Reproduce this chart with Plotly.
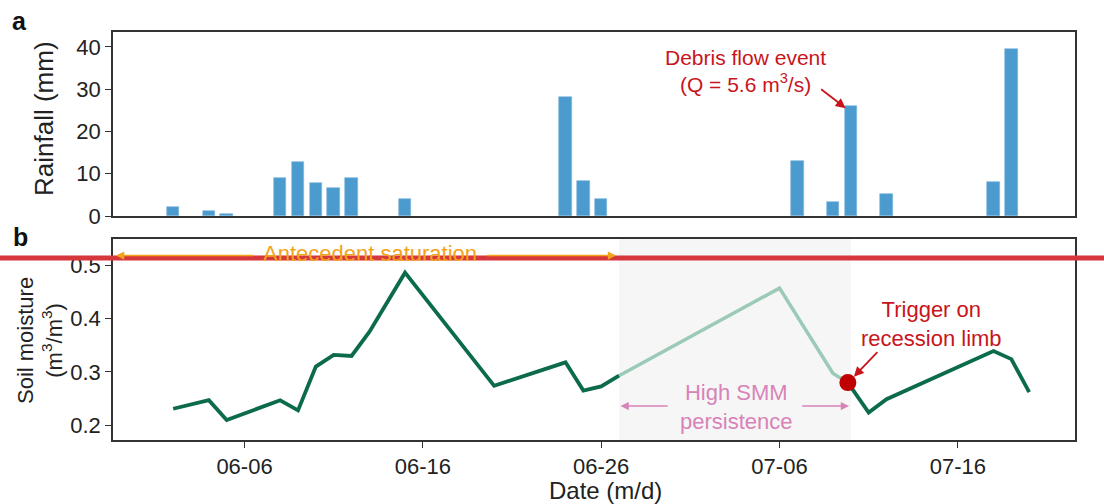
import plotly.graph_objects as go

# ---------------- data ----------------
YEAR = "2024-"
rain_dates = ["06-02", "06-04", "06-05", "06-08", "06-09", "06-10", "06-11", "06-12",
              "06-15", "06-24", "06-25", "06-26", "07-07", "07-09", "07-10", "07-12",
              "07-18", "07-19"]
rain_mm = [2.1, 1.2, 0.4, 8.9, 12.8, 7.9, 6.7, 8.9, 4.0, 28.2, 8.2, 4.1, 13.1, 3.2,
           26.0, 5.3, 8.1, 39.5]

sm_dates_pre = ["06-02", "06-04", "06-05", "06-08", "06-09", "06-10", "06-11", "06-12",
                "06-13", "06-15", "06-20", "06-24", "06-25", "06-26", "06-27"]
sm_pre = [0.231, 0.247, 0.210, 0.247, 0.228, 0.310, 0.332, 0.330, 0.375, 0.486, 0.274,
          0.318, 0.265, 0.273, 0.293]

sm_dates_high = ["06-27", "07-06", "07-09", "07-09 20:00"]
sm_high = [0.293, 0.457, 0.297, 0.280]

sm_dates_post = ["07-09 20:00", "07-11", "07-12", "07-18", "07-19", "07-20"]
sm_post = [0.280, 0.224, 0.249, 0.339, 0.324, 0.262]

trigger_date = "07-09 20:00"
trigger_sm = 0.280

tick_dates = ["06-06", "06-16", "06-26", "07-06", "07-16"]
tick_labels = ["06-06", "06-16", "06-26", "07-06", "07-16"]


def d(s):
    return YEAR + s


FONT = "Liberation Sans, Arial, sans-serif"
DARK = "#0c6b4b"
LIGHT = "#9bcab6"
RED = "#c8141c"
PINK = "#d883b8"
ORANGE = "#f2a31b"
BAR = "#4b9bcf"
AX = "#333333"

fig = go.Figure()

fig.add_trace(go.Bar(
    x=[d(s) for s in rain_dates], y=rain_mm, width=0.7 * 86400000,
    marker=dict(color=BAR, line=dict(color="#7db7df", width=0.6)),
    xaxis="x", yaxis="y", showlegend=False))

fig.add_trace(go.Scatter(
    x=[d(s) for s in sm_dates_high], y=sm_high, mode="lines",
    line=dict(color=LIGHT, width=3.5), xaxis="x2", yaxis="y2", showlegend=False))
fig.add_trace(go.Scatter(
    x=[d(s) for s in sm_dates_pre], y=sm_pre, mode="lines",
    line=dict(color=DARK, width=3.8), xaxis="x2", yaxis="y2", showlegend=False))
fig.add_trace(go.Scatter(
    x=[d(s) for s in sm_dates_post], y=sm_post, mode="lines",
    line=dict(color=DARK, width=3.8), xaxis="x2", yaxis="y2", showlegend=False))
fig.add_trace(go.Scatter(
    x=[d(trigger_date)], y=[trigger_sm], mode="markers",
    marker=dict(color="#c00000", size=17), xaxis="x2", yaxis="y2", showlegend=False))

xrange = [d("05-29 15:00"), d("07-22 13:40")]
axcommon = dict(showline=True, linecolor=AX, linewidth=1.5, mirror=True,
                showgrid=False, zeroline=False)

fig.update_layout(
    width=1104, height=504,
    margin=dict(l=113, r=29, t=32, b=64),
    plot_bgcolor="white", paper_bgcolor="white",
    font=dict(family=FONT, color="#222222", size=22),
    bargap=0,
    xaxis=dict(domain=[0, 1], anchor="y", range=xrange, type="date",
               showticklabels=False, ticks="", **axcommon),
    yaxis=dict(domain=[0.549, 1], anchor="x", range=[0, 43.5],
               tickvals=[0, 10, 20, 30, 40], ticks="outside", ticklen=6,
               tickcolor=AX, tickfont=dict(size=22), **axcommon),
    xaxis2=dict(domain=[0, 1], anchor="y2", range=xrange, type="date",
                tickvals=[d(s) for s in tick_dates], ticktext=tick_labels,
                ticks="outside", ticklen=6, tickcolor=AX,
                tickfont=dict(size=22), **axcommon),
    yaxis2=dict(domain=[0, 0.4926], anchor="x2", range=[0.1725, 0.549],
                tickvals=[0.2, 0.3, 0.4, 0.5], ticktext=["0.2", "0.3", "0.4", "0.5"],
                ticks="outside", ticklen=6, tickcolor=AX,
                tickfont=dict(size=22), **axcommon),
)

# shaded high-SMM window
fig.add_shape(type="rect", xref="x2", yref="y2 domain",
              x0=d("06-27"), x1=d("07-10"), y0=0, y1=1,
              fillcolor="#f6f6f6", line=dict(width=0), layer="below")

ann = []
# titles and panel labels
ann.append(dict(text="Rainfall (mm)", xref="paper", yref="paper",
                x=-69 / 962, y=(440 - 119) / 408, textangle=-90, showarrow=False,
                font=dict(size=26, color="#222222"), xanchor="center", yanchor="middle"))
ann.append(dict(text="Soil moisture<br>(m<sup>3</sup>/m<sup>3</sup>)", xref="paper", yref="paper",
                x=-73 / 962, y=(440 - 341) / 408, textangle=-90, showarrow=False,
                font=dict(size=22, color="#222222"), xanchor="center", yanchor="middle"))
ann.append(dict(text="Date (m/d)", xref="paper", yref="paper",
                x=(605 - 113) / 962, y=(440 - 490) / 408, showarrow=False,
                font=dict(size=24, color="#222222"), xanchor="center", yanchor="middle"))
ann.append(dict(text="<b>a</b>", xref="paper", yref="paper",
                x=(19 - 113) / 962, y=(440 - 21) / 408, showarrow=False,
                font=dict(size=25, color="#111111"), xanchor="center", yanchor="middle"))
ann.append(dict(text="<b>b</b>", xref="paper", yref="paper",
                x=(20 - 113) / 962, y=(440 - 237) / 408, showarrow=False,
                font=dict(size=25, color="#111111"), xanchor="center", yanchor="middle"))

# debris flow annotation
ann.append(dict(text="Debris flow event<br>(Q = 5.6 m<sup>3</sup>/s)", xref="x", yref="y",
                x=d("07-04 02:00"), y=34.2, showarrow=False,
                font=dict(size=21, color=RED), xanchor="center", yanchor="middle"))
ann.append(dict(text="", xref="x", yref="y", x=d("07-09 17:00"), y=25.5,
                ax=-26, ay=-20, showarrow=True, arrowhead=2, arrowsize=1.1,
                arrowwidth=1.8, arrowcolor=RED, standoff=0, startstandoff=0))

# trigger annotation
ann.append(dict(text="Trigger on<br>recession limb", xref="x2", yref="y2",
                x=d("07-14 12:00"), y=0.39, showarrow=False,
                font=dict(size=22, color=RED), xanchor="center", yanchor="middle"))
ann.append(dict(text="", xref="x2", yref="y2", x=d("07-10 04:00"), y=0.291,
                ax=25, ay=-26, showarrow=True, arrowhead=2, arrowsize=1.1,
                arrowwidth=1.8, arrowcolor=RED, standoff=0, startstandoff=0))

# High SMM persistence
ann.append(dict(text="High SMM<br>persistence", xref="x2", yref="y2",
                x=d("07-03 13:30"), y=0.2345, showarrow=False,
                font=dict(size=22, color=PINK), xanchor="center", yanchor="middle"))
for head, tail in [("06-27 02:00", "06-29 19:30"), ("07-09 21:30", "07-07 04:30")]:
    ann.append(dict(text="", xref="x2", yref="y2", x=d(head), y=0.236,
                    axref="x2", ayref="y2", ax=d(tail), ay=0.236,
                    showarrow=True, arrowhead=2, arrowsize=1.1, arrowwidth=1.5,
                    arrowcolor=PINK, standoff=0, startstandoff=0))

# Antecedent saturation
ann.append(dict(text="Antecedent saturation", xref="x2", yref="y2",
                x=d("06-13 01:00"), y=0.5225, showarrow=False,
                font=dict(size=22, color=ORANGE), xanchor="center", yanchor="middle"))
for head, tail in [("05-29 19:00", "06-06 14:00"), ("06-26 20:00", "06-19 12:00")]:
    ann.append(dict(text="", xref="x2", yref="y2", x=d(head), y=0.518,
                    axref="x2", ayref="y2", ax=d(tail), ay=0.518,
                    showarrow=True, arrowhead=2, arrowsize=1.1, arrowwidth=1.5,
                    arrowcolor=ORANGE, standoff=0, startstandoff=0))

fig.update_layout(annotations=ann)

# red horizontal line across the whole picture
fig.add_shape(type="line", xref="paper", yref="paper",
              x0=-113 / 962, x1=(1104 - 113) / 962,
              y0=(440 - 258) / 408, y1=(440 - 258) / 408,
              line=dict(color="#d5373c", width=5), layer="above")

fig.write_html("out.html", config={"displayModeBar": False},
               post_script="document.body.style.margin='0';document.body.style.overflow='hidden';")
